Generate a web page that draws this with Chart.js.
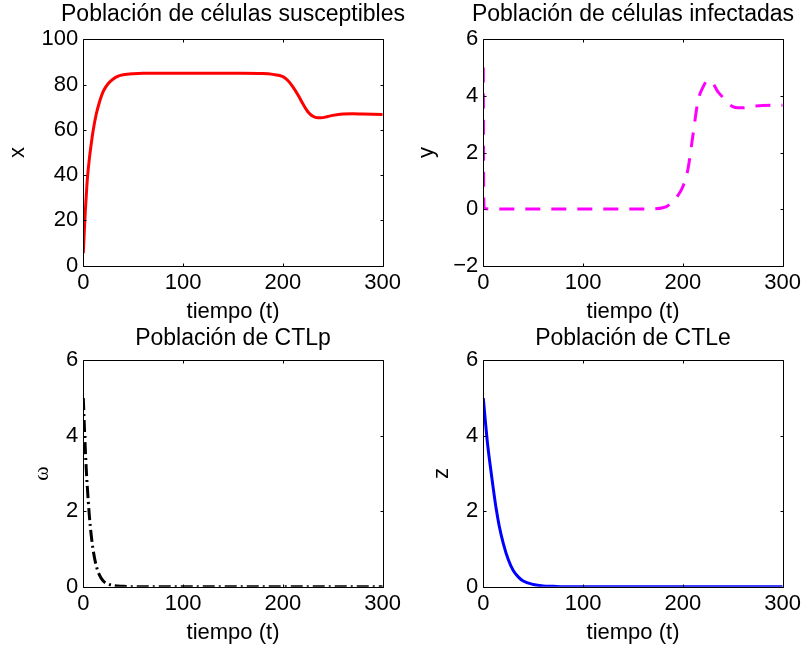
<!DOCTYPE html>
<html>
<head>
<meta charset="utf-8">
<script src="https://cdn.jsdelivr.net/npm/chart.js@4.4.1/dist/chart.umd.min.js"></script>
<style>
  html, body { margin: 0; padding: 0; background: #fff; }
  #fig { position: relative; width: 802px; height: 648px; overflow: hidden; }
  .cell { position: absolute; width: 466px; height: 330px; }
</style>
</head>
<body>
<div id="fig">
  <div class="cell" style="left:0;top:0"><canvas id="c1" width="466" height="330"></canvas></div>
  <div class="cell" style="left:400px;top:0"><canvas id="c2" width="466" height="330"></canvas></div>
  <div class="cell" style="left:0;top:321px"><canvas id="c3" width="466" height="330"></canvas></div>
  <div class="cell" style="left:400px;top:321px"><canvas id="c4" width="466" height="330"></canvas></div>
</div>
<script>
// --- DATA ---
const timeTicks = [0, 100, 200, 300];

// susceptible cells x(t)
const tX = [0, 1, 2, 3, 4, 6, 8, 10, 13, 16, 20, 25, 30, 35, 40, 50, 60, 80, 100, 120, 140, 160, 180, 190, 200, 205, 210, 215, 220, 225, 230, 235, 240, 245, 250, 260, 270, 280, 290, 300];
const xVals = [5.5, 15, 24, 31, 38, 47, 54, 60, 67, 72, 77, 80.5, 82.5, 83.7, 84.3, 84.8, 85, 85, 85, 85, 85, 85, 84.9, 84.5, 83.5, 81.8, 79, 75.5, 71.5, 68, 66, 65.3, 65.4, 65.9, 66.4, 67, 67.1, 67, 66.9, 66.8];
const xTicksY = [0, 20, 40, 60, 80, 100];

// infected cells y(t)
const tY = [0, 0.4, 1, 10, 50, 100, 150, 170, 180, 185, 190, 195, 200, 205, 210, 215, 220, 225, 230, 235, 240, 245, 250, 255, 260, 270, 280, 290, 300];
const yVals = [5, 0.6, 0.02, 0, 0, 0, 0, 0.01, 0.05, 0.12, 0.27, 0.48, 0.8, 1.4, 2.6, 3.8, 4.3, 4.55, 4.45, 4.15, 3.95, 3.75, 3.62, 3.58, 3.58, 3.63, 3.66, 3.67, 3.67];
const yTicksY = [-2, 0, 2, 4, 6];

// CTLp w(t)
const tW = [0, 1, 2, 3, 4, 6, 8, 10, 13, 16, 20, 25, 30, 40, 50, 60, 80, 100, 150, 200, 250, 300];
const wVals = [5, 4.3, 3.65, 3.1, 2.65, 1.9, 1.35, 0.95, 0.55, 0.32, 0.15, 0.07, 0.03, 0.01, 0, 0, 0, 0, 0, 0, 0, 0];

// CTLe z(t)
const tZ = [0, 2, 4, 6, 8, 10, 13, 16, 20, 25, 30, 35, 40, 50, 60, 70, 80, 100, 150, 200, 250, 300];
const zVals = [5, 4.4, 3.85, 3.4, 3.0, 2.6, 2.05, 1.6, 1.15, 0.72, 0.43, 0.26, 0.15, 0.06, 0.02, 0.01, 0, 0, 0, 0, 0, 0];
const ctlTicksY = [0, 2, 4, 6];

// --- HELPERS ---
const FONT = "'Liberation Sans', Arial, Helvetica, sans-serif";
const pts = (ts, vs) => ts.map((t, i) => ({ x: t, y: vs[i] }));
const fmt = v => v < 0 ? '\u2212' + Math.abs(v) : String(v);

// MATLAB style box with inward ticks on all four sides
const boxPlugin = {
  id: 'matlabBox',
  afterDatasetsDraw(chart) {
    const { ctx, chartArea: a, scales: { x, y } } = chart;
    const L = Math.round(a.left) + 0.5, R = Math.round(a.right) + 0.5;
    const T = Math.round(a.top) + 0.5, B = Math.round(a.bottom) + 0.5;
    const len = 3;
    ctx.save();
    ctx.strokeStyle = '#000';
    ctx.lineWidth = 1;
    ctx.beginPath();
    ctx.rect(L, T, R - L, B - T);
    x.ticks.forEach(t => {
      const px = Math.round(x.getPixelForValue(t.value)) + 0.5;
      ctx.moveTo(px, B); ctx.lineTo(px, B - len);
      ctx.moveTo(px, T); ctx.lineTo(px, T + len);
    });
    y.ticks.forEach(t => {
      const py = Math.round(y.getPixelForValue(t.value)) + 0.5;
      ctx.moveTo(L, py); ctx.lineTo(L + len, py);
      ctx.moveTo(R, py); ctx.lineTo(R - len, py);
    });
    ctx.stroke();
    ctx.restore();
  }
};

function makeChart(id, o) {
  new Chart(document.getElementById(id), {
    type: 'line',
    data: {
      datasets: [{
        data: o.data,
        borderColor: o.color,
        borderWidth: 3,
        borderDash: o.dash || [],
        pointRadius: 0,
        fill: false,
        cubicInterpolationMode: 'monotone'
      }]
    },
    options: {
      responsive: false,
      animation: false,
      events: [],
      layout: { padding: 0 },
      plugins: {
        legend: { display: false },
        tooltip: { enabled: false },
        title: {
          display: true,
          text: o.title,
          color: '#000',
          font: { family: FONT, size: 23, weight: 'normal' },
          padding: { top: o.titleTop, bottom: 11.7 - o.titleTop }
        }
      },
      scales: {
        x: {
          type: 'linear',
          min: 0, max: 300,
          grid: { display: false, drawTicks: false },
          border: { display: false },
          afterBuildTicks: s => { s.ticks = timeTicks.map(v => ({ value: v })); },
          afterFit: s => { s.height = 64.3; },
          ticks: { color: '#000', padding: 4, maxRotation: 0, font: { family: FONT, size: 22 } },
          title: {
            display: true, text: 'tiempo (t)', color: '#000',
            font: { family: FONT, size: 22 },
            padding: { top: 0, bottom: 4.8 }
          }
        },
        y: {
          type: 'linear',
          min: o.yTicks[0], max: o.yTicks[o.yTicks.length - 1],
          grid: { display: false, drawTicks: false },
          border: { display: false },
          afterBuildTicks: s => { s.ticks = o.yTicks.map(v => ({ value: v })); },
          afterFit: s => { s.width = 83.3; },
          ticks: { color: '#000', padding: 5, callback: v => fmt(v), font: { family: FONT, size: 22 } },
          title: {
            display: true, text: o.ylabel, color: '#000',
            font: { family: o.ylabelFont || FONT, size: 22 },
            padding: { top: o.ylabelPad, bottom: 0 }
          }
        },
        // empty right-hand spacer so the title centres over the plot box
        spacer: {
          type: 'linear', position: 'right', min: 0, max: 1,
          grid: { display: false, drawTicks: false },
          border: { display: false },
          ticks: { display: false },
          afterFit: s => { s.width = 83.3; }
        }
      }
    },
    plugins: [boxPlugin]
  });
}

makeChart('c1', { title: 'Población de células susceptibles', ylabel: 'x', ylabelPad: 4.8,
  data: pts(tX, xVals), color: '#ff0000', yTicks: xTicksY, titleTop: 1.2 });
makeChart('c2', { title: 'Población de células infectadas', ylabel: 'y', ylabelPad: 13.8,
  data: pts(tY, yVals), color: '#ff00ff', dash: [15, 11], yTicks: yTicksY, titleTop: 1.2 });
makeChart('c3', { title: 'Población de CTLp', ylabel: 'ω', ylabelPad: 28.8, ylabelFont: "'Liberation Serif', serif",
  data: pts(tW, wVals), color: '#000000', dash: [12, 4, 2, 4], yTicks: ctlTicksY, titleTop: 4.2 });
makeChart('c4', { title: 'Población de CTLe', ylabel: 'z', ylabelPad: 28.8,
  data: pts(tZ, zVals), color: '#0000ff', yTicks: ctlTicksY, titleTop: 4.2 });
</script>
</body>
</html>
